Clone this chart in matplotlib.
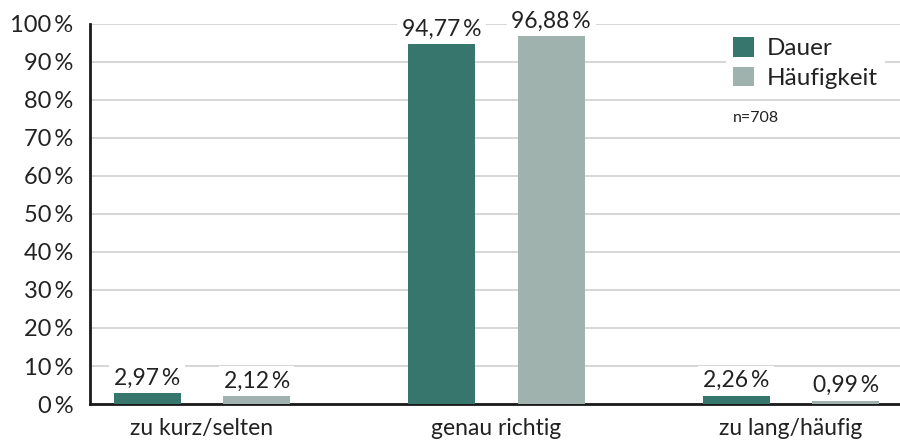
import matplotlib
matplotlib.use("Agg")
import matplotlib.pyplot as plt
import numpy as np

categories = ["zu kurz/selten", "genau richtig", "zu lang/häufig"]
dauer = [2.97, 94.77, 2.26]
haeufigkeit = [2.12, 96.88, 0.99]
series_names = ["Dauer", "Häufigkeit"]
yticks = [0, 10, 20, 30, 40, 50, 60, 70, 80, 90, 100]
note = "n=708"

plt.rcParams['font.family'] = ['Lato', 'DejaVu Sans']

c_dauer = "#36766c"
c_haeuf = "#9fb2ae"
txt = "#222222"

fig = plt.figure(figsize=(9, 4.43), dpi=100)
ax = fig.add_axes([0.1, 0.088, 0.9, 0.858])

x = np.arange(len(categories))
w = 0.227
off = 0.186
b1 = ax.bar(x - off, dauer, w, color=c_dauer, zorder=3, label=series_names[0])
b2 = ax.bar(x + off, haeufigkeit, w, color=c_haeuf, zorder=3, label=series_names[1])

def fmt(v):
    return f"{v:.2f}".replace(".", ",") + "\u2009%"

for bars, vals in ((b1, dauer), (b2, haeufigkeit)):
    for r, v in zip(bars, vals):
        ax.annotate(fmt(v), (r.get_x() + r.get_width() / 2, v), xytext=(0, 3),
                    textcoords="offset points", ha="center", va="bottom",
                    fontsize=16.5, color=txt, zorder=4,
                    bbox=dict(boxstyle="square,pad=0.2", fc="white", ec="none"))

ax.set_xlim(-0.38, 2.37)
ax.set_ylim(0, 100)
ax.set_yticks(yticks)
ax.set_yticklabels([f"{t}\u2009%" for t in yticks], fontsize=17, color=txt)
ax.set_xticks(x)
ax.set_xticklabels(categories, fontsize=16.5, color=txt)
ax.tick_params(axis="both", length=0)
ax.tick_params(axis="y", pad=12)
ax.tick_params(axis="x", pad=10)

ax.yaxis.grid(True, color="#d0d0d0", linewidth=1.2, zorder=0)
ax.set_axisbelow(True)
for s in ["top", "right"]:
    ax.spines[s].set_visible(False)
ax.spines["left"].set_color("#1a1a1a")
ax.spines["left"].set_linewidth(2)
ax.spines["bottom"].set_color("#1a1a1a")
ax.spines["bottom"].set_linewidth(2)

leg = ax.legend(loc="upper left", bbox_to_anchor=(0.785, 0.984), frameon=True,
                fontsize=17.5, handlelength=0.85, handleheight=0.85,
                handletextpad=0.55, labelspacing=0.3, borderpad=0.3,
                borderaxespad=0)
leg.get_frame().set_facecolor("white")
leg.get_frame().set_edgecolor("none")
leg.get_frame().set_alpha(1)
for t in leg.get_texts():
    t.set_color(txt)

ax.text(0.794, 0.752, note, transform=ax.transAxes, fontsize=11.5, color=txt,
        ha="left", va="center")

fig.savefig("out.png", dpi=100)
